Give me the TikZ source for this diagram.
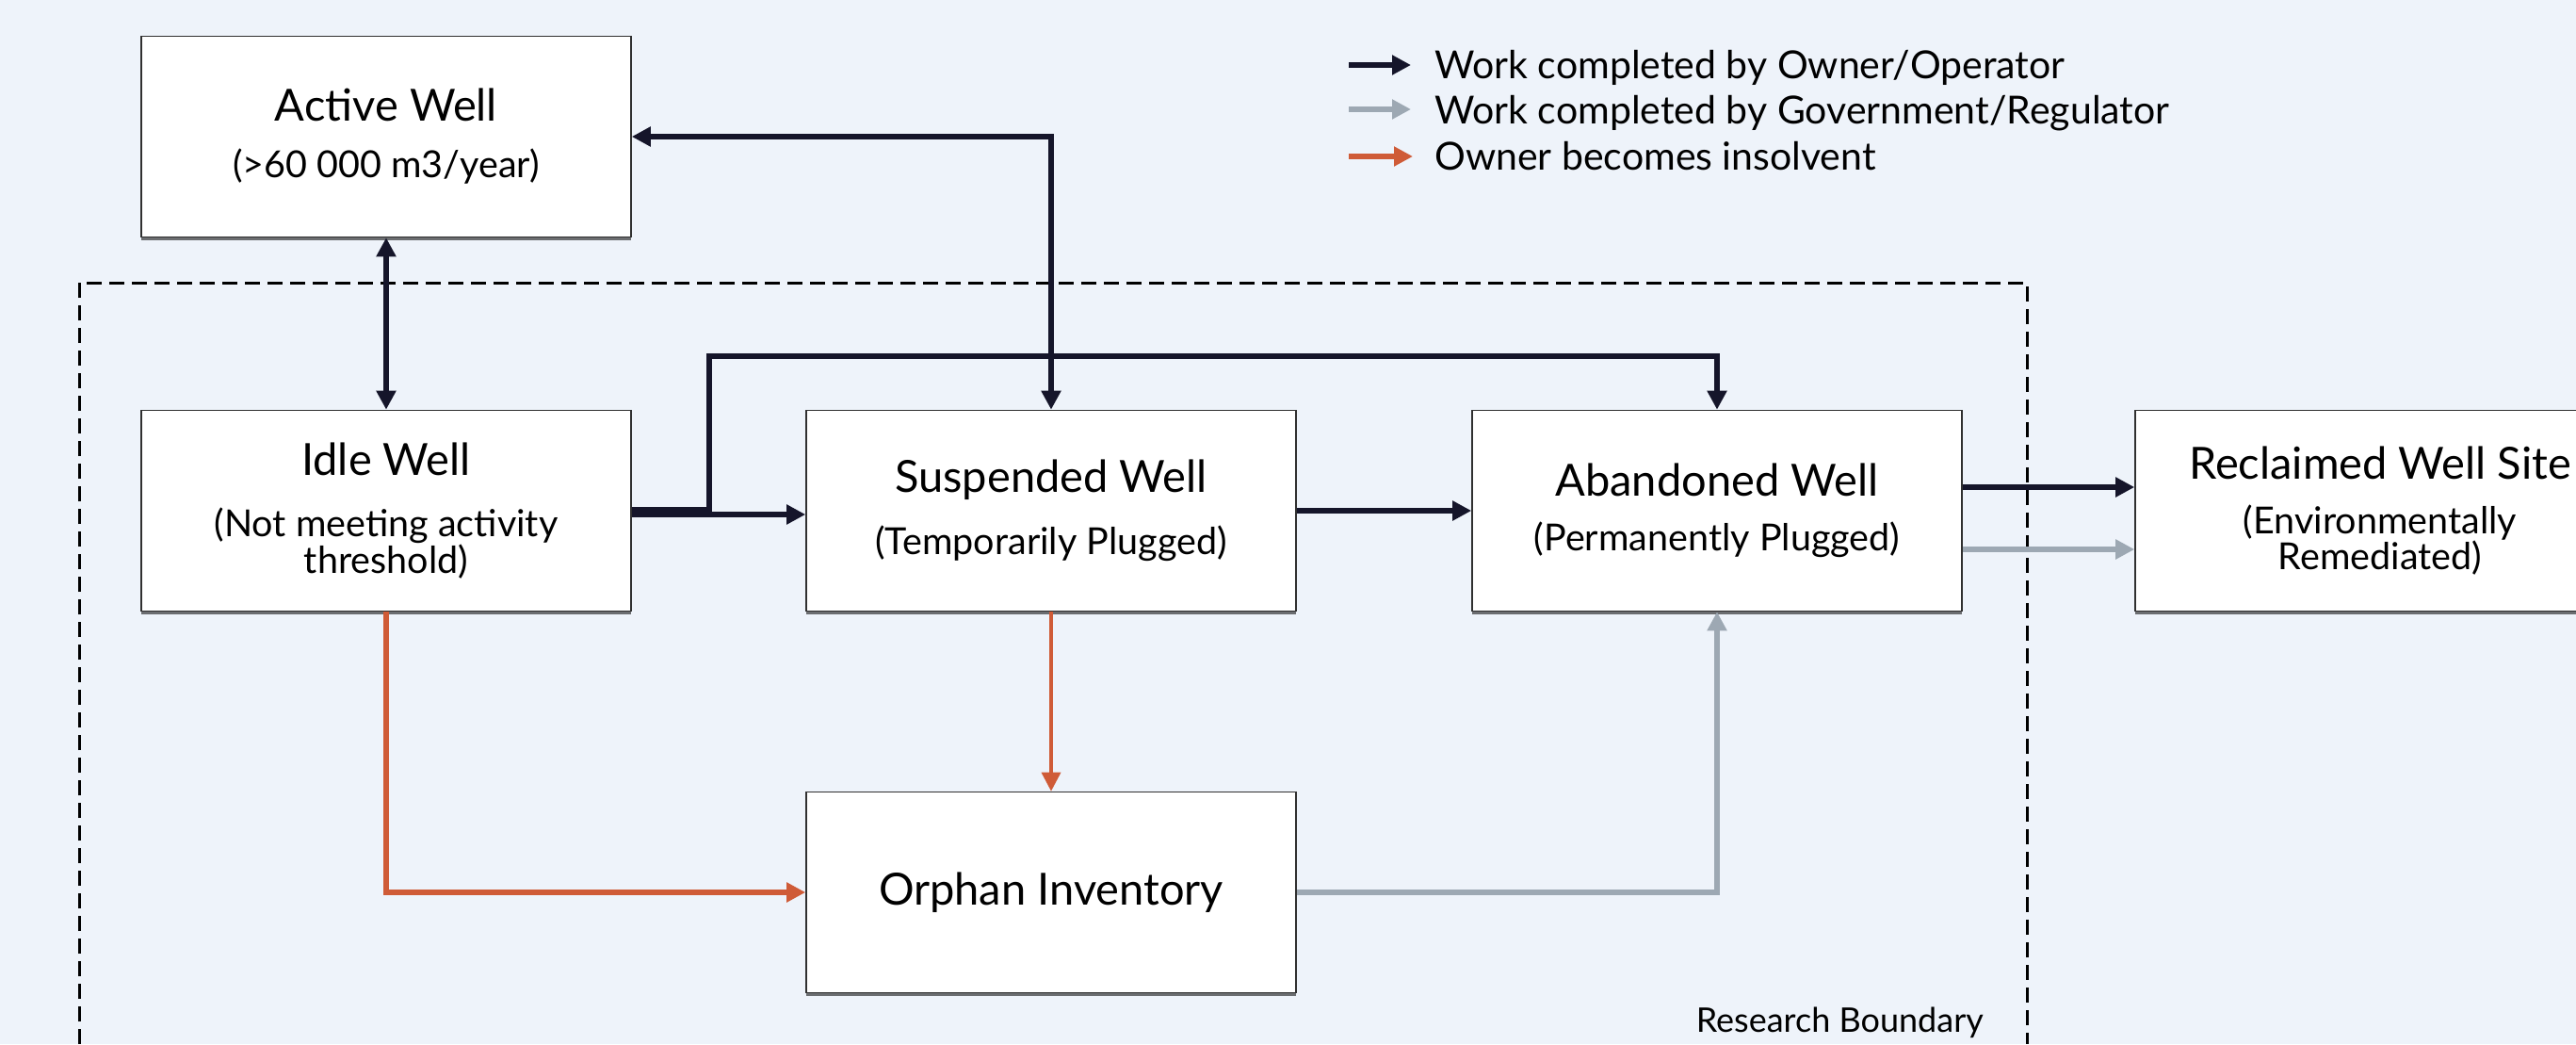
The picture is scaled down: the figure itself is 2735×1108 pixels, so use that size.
\documentclass[tikz,border=0pt]{standalone}
\usepackage{fontspec}
\setmainfont{Lato}
\usetikzlibrary{arrows.meta,shadows}
\definecolor{bgcol}{HTML}{EEF3FA}
\definecolor{dkcol}{HTML}{15152A}
\definecolor{gycol}{HTML}{9DA8B3}
\definecolor{rdcol}{HTML}{CF5B37}
\definecolor{boxline}{HTML}{303030}
\newcommand{\ttl}{\fontsize{47}{54}\selectfont}
\newcommand{\sbt}{\fontsize{39.5}{41}\selectfont}
\begin{document}
\begin{tikzpicture}[x=1pt,y=-1pt,
  wbox/.style={draw=boxline, fill=white, line width=1.6pt, minimum width=520pt, minimum height=213pt, inner sep=0pt, align=center,
    drop shadow={shadow xshift=0pt, shadow yshift=-3pt, fill=black, opacity=0.55}},
  tip/.style={-{Triangle[length=20pt,width=20pt]}},
  dk/.style={draw=dkcol, line width=5.5pt, tip},
  gy/.style={draw=gycol, line width=5.5pt, tip},
  rd/.style={draw=rdcol, line width=5.5pt, tip},
  rdthin/.style={draw=rdcol, line width=3.5pt, tip},
  bound/.style={draw=black, line width=3pt, dash pattern=on 16pt off 8pt},
  leg/.style={anchor=base west, font=\fontsize{41}{48}\selectfont, inner sep=0pt}
]
\useasboundingbox (0,0) rectangle (2735,1108);
\fill[bgcol] (0,0) rectangle (2735,1108);

% research boundary
\coordinate (bl) at (84,1108);
\coordinate (tl) at (84,300);
\coordinate (tr) at (2152,300);
\coordinate (br) at (2152,1108);
\draw[bound] (bl) -- (tl) -- (tr) -- (br);
\node[anchor=base east, inner sep=0pt, font=\fontsize{36}{42}\selectfont] (rb) at (2106,1095) {Research Boundary};

% boxes
\node[wbox] (active) at (410,145) {{\ttl Active Well}\\[28pt]{\sbt (>60 000 m3/year)}};
\node[wbox] (idle) at (410,542) {{\ttl Idle Well}\\[34pt]{\sbt (Not meeting activity}\\{\sbt threshold)}};
\node[wbox] (susp) at (1116,542) {{\ttl Suspended Well}\\[26pt]{\sbt (Temporarily Plugged)}};
\node[wbox] (aband) at (1823,542) {{\ttl Abandoned Well}\\[26pt]{\sbt (Permanently Plugged)}};
\node[wbox] (recl) at (2527,542) {{\ttl Reclaimed Well Site}\\[26pt]{\sbt (Environmentally}\\{\sbt Remediated)}};
\node[wbox] (orphan) at (1116,947) {{\ttl Orphan Inventory}};

% connectors
\coordinate (j1) at (753,378);
\draw[dk, {Triangle[length=20pt,width=20pt]}-{Triangle[length=20pt,width=20pt]}] (active.south) -- (idle.north);
\draw[dk, {Triangle[length=20pt,width=20pt]}-{Triangle[length=20pt,width=20pt]}] (active.east) -| (susp.north);
\draw[dk] ([yshift=1pt]idle.east) -| (j1) -| (aband.north);
\draw[dk] ([yshift=-4pt]idle.east) -- ([yshift=-4pt]susp.west);
\draw[dk] (susp.east) -- (aband.west);
\draw[dk] ([yshift=25pt]aband.east) -- ([yshift=25pt]recl.west);
\draw[gy] ([yshift=-41pt]aband.east) -- ([yshift=-41pt]recl.west);
\draw[rd] (idle.south) |- (orphan.west);
\draw[rdthin] (susp.south) -- (orphan.north);
\draw[gy] (orphan.east) -| (aband.south);

% legend
\node[leg] (l1) at (1523,83) {Work completed by Owner/Operator};
\node[leg] (l2) at (1523,131) {Work completed by Government/Regulator};
\node[leg] (l3) at (1523,180) {Owner becomes insolvent};
\coordinate (a1s) at (1432,69); \coordinate (a1e) at (1498,69);
\coordinate (a2s) at (1432,116); \coordinate (a2e) at (1498,116);
\coordinate (a3s) at (1432,166); \coordinate (a3e) at (1500,166);
\draw[dk] (a1s) -- (a1e);
\draw[gy] (a2s) -- (a2e);
\draw[rd] (a3s) -- (a3e);
\end{tikzpicture}
\end{document}
